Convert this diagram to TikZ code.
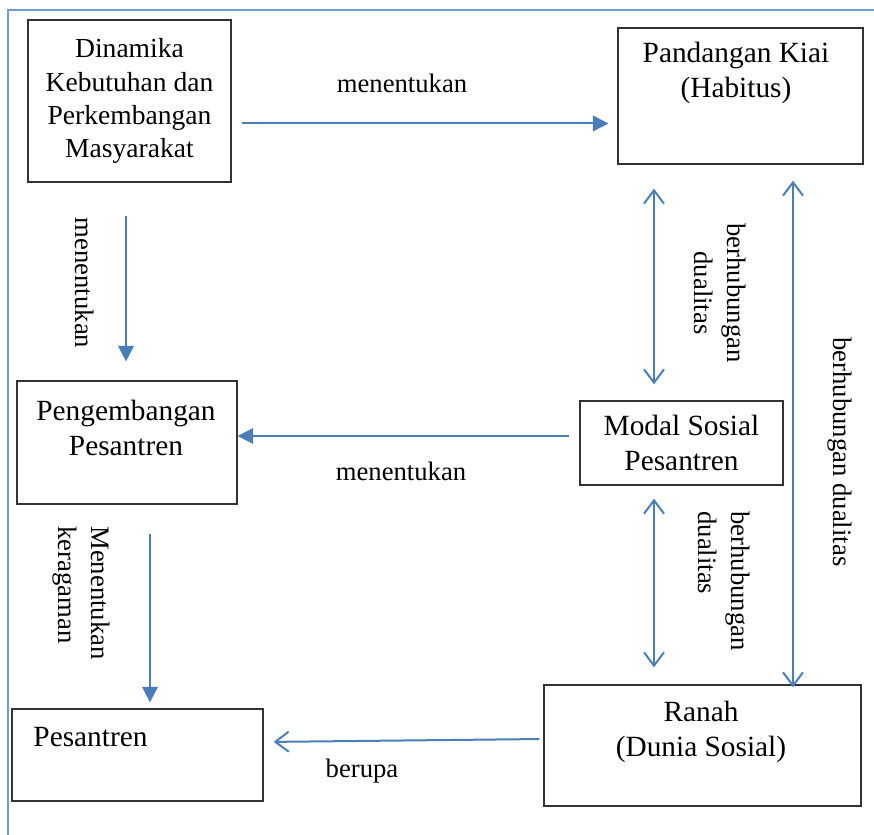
\documentclass[tikz,border=0pt]{standalone}
\usepackage{fontspec}
\setmainfont{Liberation Serif}
\usepackage{xcolor}
\usetikzlibrary{arrows.meta}
\definecolor{linkblue}{HTML}{4A7EBB}
\definecolor{framblue}{HTML}{6F9BD6}

\begin{document}
\begin{tikzpicture}[x=0.45pt,y=-0.45pt,
  box/.style={draw=black!80,line width=.6pt,inner sep=0pt},
  txt/.style={font=\fontsize{13.2}{15.6}\selectfont,align=center,inner sep=0pt},
  lbl/.style={font=\fontsize{12}{14.8}\selectfont,inner sep=0pt},
  solidarrow/.style={linkblue,line width=.9pt,-{Triangle[length=7pt,width=7pt]}},
  openarrow/.style={linkblue,line width=.9pt,{Straight Barb[length=6pt,width=9pt]}-{Straight Barb[length=6pt,width=9pt]}}]
  \useasboundingbox (0,0) rectangle (874,835);
  \draw[framblue,line width=.7pt] (874,10) -- (8,10) -- (8,835);

  % boxes
  \node[box,txt,font=\fontsize{12.4}{14.9}\selectfont,minimum width=91.35pt,minimum height=72.9pt] (dinamika) at (129.5,101)
    {Dinamika\\Kebutuhan dan\\Perkembangan\\Masyarakat};
  \node[box,minimum width=110.25pt,minimum height=61.2pt] (pandangan) at (740.5,96) {};
  \node[txt] (pandangantxt) at (736,73) {Pandangan Kiai\\(Habitus)};
  \node[box,minimum width=99pt,minimum height=55.35pt] (pengembangan) at (127,442.5) {};
  \node[txt] (pengembangantxt) at (126,428) {Pengembangan\\Pesantren};
  \node[box,txt,minimum width=91.35pt,minimum height=37.8pt] (modal) at (681.5,443)
    {Modal Sosial\\Pesantren};
  \node[box,minimum width=112.95pt,minimum height=41.4pt] (pesantren) at (137.5,755) {};
  \node[txt,anchor=west] (pesantrentxt) at (33,737) {Pesantren};
  \node[box,minimum width=142.65pt,minimum height=54.45pt] (ranah) at (702.5,745.5) {};
  \node[txt] (ranahtxt) at (701,732) {Ranah\\(Dunia Sosial)};

  % connectors
  \draw[solidarrow,shorten <=4.5pt,shorten >=4pt] (dinamika.east |- 0,123.5) -- (pandangan.west |- 0,123.5);
  \draw[solidarrow,shorten <=14.85pt,shorten >=8.5pt] (dinamika.south -| 126,0) -- (pengembangan.north -| 126,0);
  \draw[solidarrow,shorten <=4.5pt] (modal.west |- 0,436) -- (pengembangan.east |- 0,436);
  \draw[solidarrow,shorten <=13pt,shorten >=2.7pt] (pengembangan.south -| 150,0) -- (pesantren.north -| 150,0);
  \draw[linkblue,line width=.9pt,-{Straight Barb[length=6pt,width=9pt]},shorten <=1.8pt,shorten >=4.5pt]
    (ranah.west |- 0,739) -- (pesantren.east |- 0,742);
  \draw[openarrow,shorten <=10.8pt,shorten >=7.2pt] (pandangan.south -| 654,0) -- (modal.north -| 654,0);
  \draw[openarrow,shorten <=5.85pt,shorten >=7.65pt] (modal.south -| 654,0) -- (ranah.north -| 654,0);
  \draw[openarrow,shorten <=7.2pt,shorten >=-1.35pt] (pandangan.south -| 793,0) -- (ranah.north -| 793,0);

  % labels
  \node[lbl] (l1) at (402,83) {menentukan};
  \node[lbl,rotate=-90] (l2) at (85,283) {menentukan};
  \node[lbl] (l3) at (401,471) {menentukan};
  \node[lbl,align=left,rotate=-90] (l4) at (81,593) {Menentukan\\keragaman};
  \node[lbl] (l5) at (362,771) {berupa};
  \node[lbl,align=center,rotate=-90] (l6) at (720,293) {berhubungan\\dualitas};
  \node[lbl,align=left,rotate=-90] (l7) at (724,581) {berhubungan\\dualitas};
  \node[lbl,rotate=-90] (l8) at (840,452) {berhubungan dualitas};
\end{tikzpicture}
\end{document}
